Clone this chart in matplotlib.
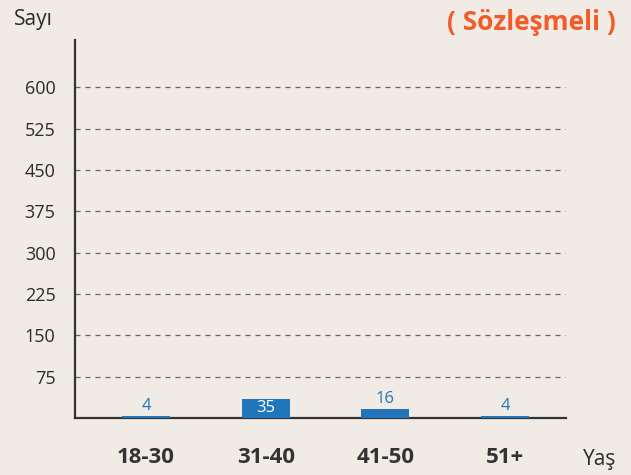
import matplotlib
matplotlib.use("Agg")
import matplotlib.pyplot as plt

plt.rcParams.update({
    "font.family": ["Open Sans", "DejaVu Sans"],
    "axes.spines.top": False,
    "axes.spines.right": False,
})

BG = "#f0ebe5"
BAR = "#2176bb"
ORANGE = "#f25c2a"
TEXT = "#2b2b2b"

age_groups = ["18-30", "31-40", "41-50", "51+"]
counts = [4, 35, 16, 4]
yticks = [75, 150, 225, 300, 375, 450, 525, 600]

fig = plt.figure(figsize=(6.31, 4.75), dpi=100, facecolor=BG)
ax = fig.add_axes([75 / 631, (475 - 418) / 475, (566 - 75) / 631, (418 - 40) / 475])
ax.set_facecolor(BG)

x = range(len(age_groups))
ax.bar(x, counts, 0.40, color=BAR, zorder=3)
for i, v in zip(x, counts):
    if v >= 30:
        ax.text(i, v / 2, str(v), ha="center", va="center", color="white", fontsize=12, zorder=4)
    else:
        ax.text(i, v + 4, str(v), ha="center", va="bottom", color=BAR, fontsize=12, zorder=4)

ax.set_xlim(-0.593, 3.51)
ax.set_ylim(0, 686)
ax.set_yticks(yticks)
ax.set_yticklabels([str(t) for t in yticks], fontsize=13, color=TEXT)
ax.set_xticks(list(x))
ax.set_xticklabels(age_groups, fontsize=16, fontweight="bold", color="#333333")
ax.tick_params(axis="both", length=0)
ax.tick_params(axis="y", pad=14)
ax.tick_params(axis="x", pad=21)
ax.yaxis.grid(True, linestyle=(0, (4, 4)), color="#666666", linewidth=0.9)
ax.set_axisbelow(True)
for s in ("left", "bottom"):
    ax.spines[s].set_color("#333333")
    ax.spines[s].set_linewidth(1.6)

fig.text(33 / 631, 1 - 20 / 475, "Sayı", ha="center", va="center", fontsize=15, color=TEXT)
fig.text(600 / 631, 1 - 460 / 475, "Yaş", ha="center", va="center", fontsize=15, color=TEXT)
fig.text(531 / 631, 1 - 22 / 475, "( Sözleşmeli )", ha="center", va="center",
         fontsize=19, fontweight="bold", color=ORANGE)

fig.savefig("out.png", dpi=100, facecolor=BG)
